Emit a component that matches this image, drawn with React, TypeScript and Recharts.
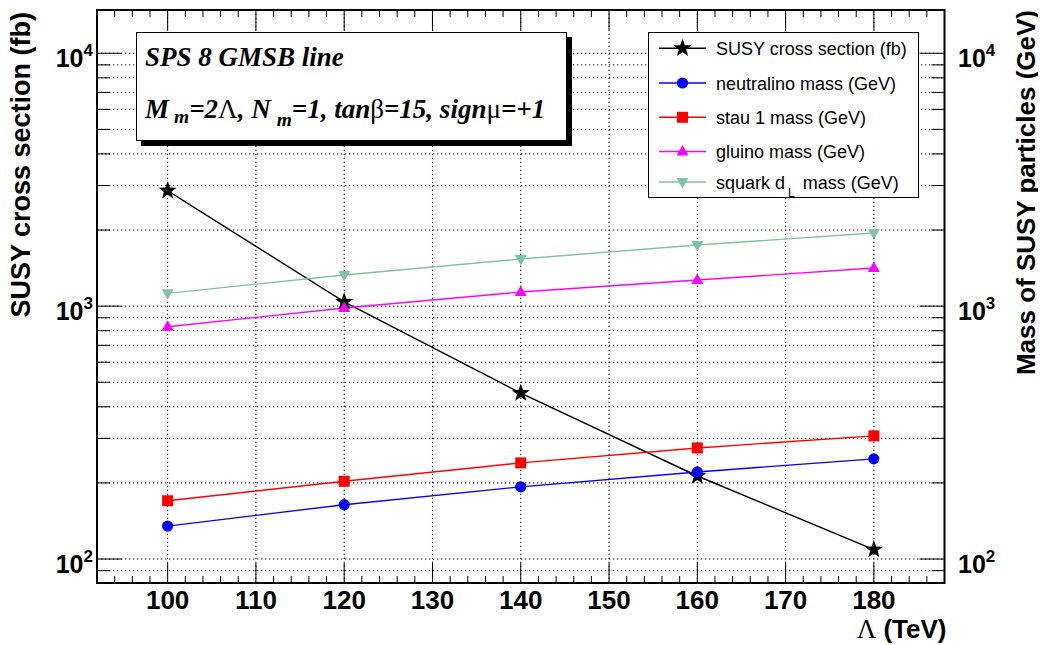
import { Label, Legend, Line, LineChart, ReferenceArea, ReferenceLine, XAxis, YAxis } from 'recharts';

// values
const lambdaTeV = [100, 120, 140, 160, 180];
const susyCrossSection = [2860, 1040, 453, 213, 109];
const neutralinoMass = [135, 164, 193, 221, 249];
const stau1Mass = [170, 203, 240, 275, 307];
const gluinoMass = [829, 983, 1138, 1269, 1415];
const squarkDLMass = [1124, 1328, 1537, 1745, 1947];

const xMajorTicks = [100, 110, 120, 130, 140, 150, 160, 170, 180];
const yTicks = [
  90, 100, 200, 300, 400, 500, 600, 700, 800, 900,
  1000, 2000, 3000, 4000, 5000, 6000, 7000, 8000, 9000, 10000,
];
const yMajorTicks = [100, 1000, 10000];

const X_DOMAIN = [92, 188];
const Y_DOMAIN = [80.4, 14830];

const W = 1030;
const CHART_H = 637;
const PLOT_TOP = 2;
const LEFT_W = 89;
const RIGHT_W = 93.5;
const XAXIS_H = 62;
const PLOT_LEFT = LEFT_W;
const PLOT_RIGHT = W - RIGHT_W;
const PLOT_BOTTOM = CHART_H - XAXIS_H;

const SANS = '"Liberation Sans", Arial, Helvetica, sans-serif';
const SERIF = '"Liberation Serif", "Times New Roman", serif';

const xTicks = Array.from({ length: 49 }, (_, i) => X_DOMAIN[0] + 2 * i);

const rows = lambdaTeV.map((l, i) => ({
  lambda: l,
  xsec: susyCrossSection[i],
  neutralino: neutralinoMass[i],
  stau: stau1Mass[i],
  gluino: gluinoMass[i],
  squark: squarkDLMass[i],
}));

type Shape = 'star' | 'circle' | 'square' | 'up' | 'down';

interface ISeries {
  key: string;
  name: string;
  color: string;
  shape: Shape;
  axis: string;
}

const series: ISeries[] = [
  { key: 'xsec', name: 'SUSY cross section (fb)', color: '#000000', shape: 'star', axis: 'left' },
  { key: 'neutralino', name: 'neutralino mass (GeV)', color: '#0000ff', shape: 'circle', axis: 'right' },
  { key: 'stau', name: 'stau 1 mass (GeV)', color: '#ff0000', shape: 'square', axis: 'right' },
  { key: 'gluino', name: 'gluino mass (GeV)', color: '#ff00ff', shape: 'up', axis: 'right' },
  { key: 'squark', name: 'squark d_L mass (GeV)', color: '#7fc2a0', shape: 'down', axis: 'right' },
];

function starPoints(cx: number, cy: number, R: number, r: number): string {
  const pts: string[] = [];
  for (let k = 0; k < 10; k++) {
    const a = -Math.PI / 2 + (k * Math.PI) / 5;
    const rad = k % 2 === 0 ? R : r;
    pts.push(`${cx + rad * Math.cos(a)},${cy + rad * Math.sin(a)}`);
  }
  return pts.join(' ');
}

function Marker({ cx, cy, shape, color }: { cx: number; cy: number; shape: Shape; color: string }) {
  switch (shape) {
    case 'star':
      return <polygon points={starPoints(cx, cy, 9.5, 3.9)} fill={color} />;
    case 'circle':
      return <circle cx={cx} cy={cy} r={5.6} fill={color} />;
    case 'square':
      return <rect x={cx - 5.5} y={cy - 5.5} width={11} height={11} fill={color} />;
    case 'up':
      return <polygon points={`${cx},${cy - 6.5} ${cx - 6},${cy + 4} ${cx + 6},${cy + 4}`} fill={color} />;
    default:
      return <polygon points={`${cx - 6},${cy - 4} ${cx + 6},${cy - 4} ${cx},${cy + 6.5}`} fill={color} />;
  }
}

function XTick(props: any) {
  const { x, payload } = props;
  const v = payload.value as number;
  const major = v % 10 === 0;
  const len = major ? 20 : 7;
  return (
    <g>
      <line x1={x} x2={x} y1={PLOT_BOTTOM} y2={PLOT_BOTTOM - len} stroke='#000' strokeWidth={1} />
      <line x1={x} x2={x} y1={PLOT_TOP} y2={PLOT_TOP + len} stroke='#000' strokeWidth={1} />
      {major && v >= 100 && v <= 180 && (
        <text x={x} y={PLOT_BOTTOM + 26} textAnchor='middle' fontFamily={SANS} fontWeight='bold' fontSize={26} fill='#000'>
          {v}
        </text>
      )}
    </g>
  );
}

function powerLabel(x: number, y: number, v: number, anchor: 'start' | 'end') {
  const exp = Math.round(Math.log10(v));
  return (
    <text x={x} y={y + 14} textAnchor={anchor} fontFamily={SANS} fontWeight='bold' fontSize={25} fill='#000'>
      10
      <tspan dy={-11} fontSize={17}>
        {exp}
      </tspan>
    </text>
  );
}

function LeftTick(props: any) {
  const { y, payload } = props;
  const v = payload.value as number;
  const major = yMajorTicks.includes(v);
  const len = major ? 25 : 13;
  return (
    <g>
      <line x1={PLOT_LEFT} x2={PLOT_LEFT + len} y1={y} y2={y} stroke='#000' strokeWidth={1} />
      <line x1={PLOT_RIGHT - len} x2={PLOT_RIGHT} y1={y} y2={y} stroke='#000' strokeWidth={1} />
      {major && powerLabel(PLOT_LEFT - 4, y, v, 'end')}
    </g>
  );
}

function RightTick(props: any) {
  const { y, payload } = props;
  const v = payload.value as number;
  if (!yMajorTicks.includes(v)) return <g />;
  return powerLabel(PLOT_RIGHT + 13.5, y, v, 'start');
}

function LegendBox() {
  const rowY = [16.3, 51, 85.3, 119.5, 150];
  return (
    <svg width={272} height={166} style={{ display: 'block', overflow: 'visible' }}>
      <rect x={0.5} y={0.5} width={270} height={165} fill='#fff' stroke='#000' strokeWidth={1} />
      {series.map((s, i) => {
        const cy = rowY[i];
        const label = s.name.split('_');
        return (
          <g key={s.key}>
            <line x1={11} x2={58} y1={cy} y2={cy} stroke={s.color} strokeWidth={1.5} />
            <Marker cx={34.5} cy={cy} shape={s.shape} color={s.color} />
            <text x={68} y={cy + 6.5} fontFamily={SANS} fontSize={18} fill='#000'>
              {label.length === 1 ? (
                s.name
              ) : (
                <>
                  {label[0]}
                  <tspan dx={3} dy={8} fontSize={12}>
                    {label[1].charAt(0)}
                  </tspan>
                  <tspan dx={3} dy={-8}>
                    {label[1].slice(1)}
                  </tspan>
                </>
              )}
            </text>
          </g>
        );
      })}
    </svg>
  );
}

function InfoBox() {
  const greek = { fontStyle: 'normal', fontWeight: 'normal' } as const;
  return (
    <div
      style={{
        position: 'absolute',
        left: 128,
        top: 23.7,
        width: 429,
        height: 107,
        border: '1px solid #000',
        background: '#fff',
        boxShadow: '5px 5px 0 #000',
      }}
    >
      <svg width={429} height={107} style={{ display: 'block', overflow: 'visible' }}>
        <text x={8} y={33} fontFamily={SERIF} fontWeight='bold' fontStyle='italic' fontSize={27} fill='#000'>
          SPS 8 GMSB line
        </text>
        <text x={8} y={85} fontFamily={SERIF} fontWeight='bold' fontStyle='italic' fontSize={27} fill='#000'>
          M
          <tspan dx={5} dy={5} fontSize={19.5}>m</tspan>
          <tspan dy={-5}>=2</tspan>
          <tspan {...greek}>Λ</tspan>
          <tspan>, N</tspan>
          <tspan dx={6} dy={8} fontSize={19.5}>m</tspan>
          <tspan dy={-8}>=1, tan</tspan>
          <tspan {...greek}>β</tspan>
          <tspan>=15, sign</tspan>
          <tspan {...greek}>μ</tspan>
          <tspan>=+1</tspan>
        </text>
      </svg>
    </div>
  );
}

export default function App() {
  return (
    <div style={{ position: 'relative', width: W, height: CHART_H, fontFamily: SANS }}>
      <style>{'.recharts-surface{overflow:visible}'}</style>
      <LineChart width={W} height={CHART_H} data={rows} margin={{ top: PLOT_TOP, right: 0, bottom: 0, left: 0 }}>
        <XAxis
          dataKey='lambda'
          type='number'
          domain={X_DOMAIN}
          ticks={xTicks}
          allowDataOverflow
          height={XAXIS_H}
          tick={<XTick />}
          tickLine={false}
          axisLine={false}
          interval={0}
        >
          <Label
            content={() => (
              <text x={PLOT_RIGHT + 2} y={630} textAnchor='end' fontFamily={SANS} fontWeight='bold' fontSize={26} fill='#000'>
                <tspan fontFamily={SERIF} fontWeight='normal' fontSize={27}>
                  Λ
                </tspan>
                <tspan> (TeV)</tspan>
              </text>
            )}
          />
        </XAxis>
        <YAxis
          yAxisId='left'
          orientation='left'
          scale='log'
          domain={Y_DOMAIN}
          ticks={yTicks}
          allowDataOverflow
          width={LEFT_W}
          tick={<LeftTick />}
          tickLine={false}
          axisLine={false}
          interval={0}
        >
          <Label
            content={() => (
              <text
                transform={`translate(22, 4) rotate(-90)`}
                textAnchor='end'
                fontFamily={SANS}
                fontWeight='bold'
                fontSize={27}
                fill='#000'
              >
                SUSY cross section (fb)
              </text>
            )}
          />
        </YAxis>
        <YAxis
          yAxisId='right'
          orientation='right'
          scale='log'
          domain={Y_DOMAIN}
          ticks={yTicks}
          allowDataOverflow
          width={RIGHT_W}
          tick={<RightTick />}
          tickLine={false}
          axisLine={false}
          interval={0}
        >
          <Label
            content={() => (
              <text
                transform={`translate(1027, 2) rotate(-90)`}
                textAnchor='end'
                fontFamily={SANS}
                fontWeight='bold'
                fontSize={26}
                fill='#000'
              >
                Mass of SUSY particles (GeV)
              </text>
            )}
          />
        </YAxis>
        {yTicks.map(t => (
          <ReferenceLine key={`h${t}`} yAxisId='left' y={t} stroke='#000' strokeWidth={1} strokeDasharray='1.3 2.7' />
        ))}
        {xMajorTicks.map(t => (
          <ReferenceLine key={`v${t}`} yAxisId='left' x={t} stroke='#000' strokeWidth={1} strokeDasharray='1.3 2.7' />
        ))}
        {series.map(s => (
          <Line
            key={s.key}
            yAxisId={s.axis}
            dataKey={s.key}
            name={s.name}
            stroke={s.color}
            strokeWidth={1.4}
            isAnimationActive={false}
            dot={(p: any) => <Marker key={`${s.key}-${p.index}`} cx={p.cx} cy={p.cy} shape={s.shape} color={s.color} />}
            activeDot={false}
          />
        ))}
        <ReferenceArea
          yAxisId='left'
          x1={X_DOMAIN[0]}
          x2={X_DOMAIN[1]}
          y1={Y_DOMAIN[0]}
          y2={Y_DOMAIN[1]}
          fill='none'
          fillOpacity={0}
          stroke='#000'
          strokeWidth={2}
          ifOverflow='visible'
        />
        <Legend
          layout='vertical'
          align='center'
          verticalAlign='middle'
          wrapperStyle={{ left: 640, top: 24, width: 272, height: 166 }}
          content={() => <LegendBox />}
        />
      </LineChart>
      <InfoBox />
    </div>
  );
}
